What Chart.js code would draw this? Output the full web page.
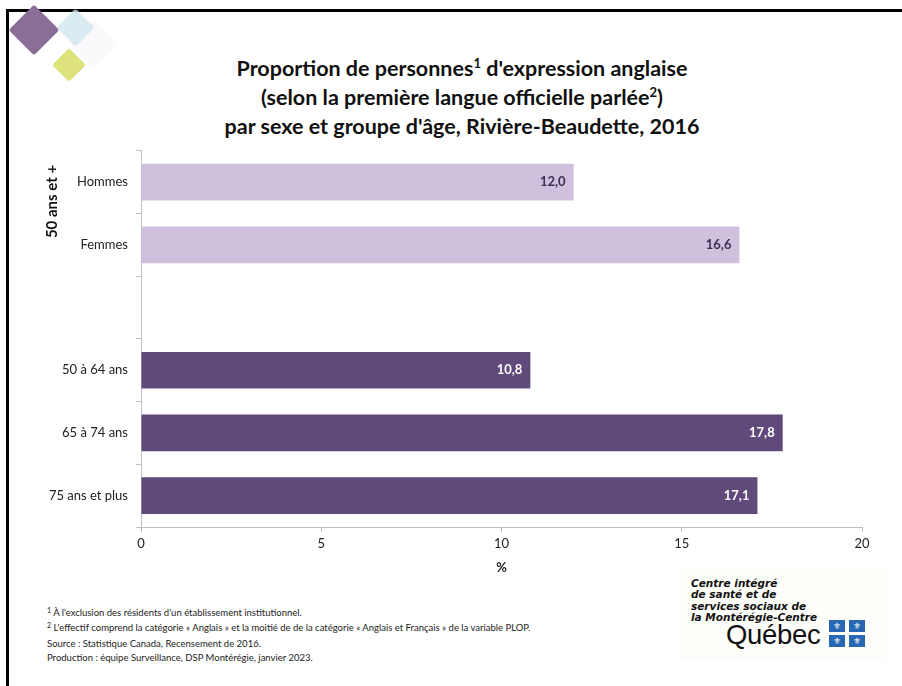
<!DOCTYPE html>
<html lang="fr">
<head>
<meta charset="utf-8">
<script src="https://cdn.jsdelivr.net/npm/chart.js@4.4.1/dist/chart.umd.min.js"></script>
<style>
  html, body { margin: 0; padding: 0; background: #fff; }
  body { width: 902px; height: 686px; position: relative; overflow: hidden; font-family: Lato, "Open Sans", sans-serif; color: #222; }
  .frame { position: absolute; left: 6px; top: 9px; right: -10px; bottom: -10px; border-left: 3px solid #000; border-top: 3px solid #000; }
  .dia { position: absolute; transform: rotate(45deg); border-radius: 3px; }
  #title { position: absolute; left: 130px; width: 664px; top: 54px; text-align: center; font-weight: bold; font-size: 21.5px; line-height: 29px; color: #111; }
  #title sup { font-size: 13px; line-height: 0; vertical-align: 8px; }
  #wrap { position: absolute; left: 20px; top: 135px; width: 860px; height: 445px; }
  .notes { position: absolute; left: 47px; top: 606px; font-size: 9.5px; line-height: 14.8px; color: #222; }
  .notes sup { font-size: 7px; vertical-align: 3px; line-height: 0; }
  .logo { position: absolute; left: 680px; top: 568px; width: 206px; height: 92px; background: #fdfdf9; }
  .logo .org { position: absolute; left: 11px; top: 10px; font-family: "DejaVu Sans", sans-serif; font-weight: bold; font-style: italic; font-size: 10.5px; line-height: 11.3px; color: #111; }
  .logo .qc { position: absolute; left: 46px; top: 51px; font-family: "Liberation Sans", sans-serif; font-size: 27.5px; letter-spacing: -0.3px; color: #111; }
  .flag { position: absolute; width: 16px; height: 12px; background: #2767b3; color: #fff; font-family: "DejaVu Sans", sans-serif; font-size: 9px; line-height: 12px; text-align: center; }
</style>
</head>
<body>
<div class="frame"></div>
<div class="dia" style="left:77px;top:27px;width:34px;height:34px;background:#fafafc;"></div>
<div class="dia" style="left:16px;top:12px;width:36px;height:36px;background:#8a6e97;"></div>
<div class="dia" style="left:62px;top:14px;width:27px;height:27px;background:rgba(205,228,238,0.75);"></div>
<div class="dia" style="left:57px;top:53px;width:24px;height:24px;background:#dde27c;"></div>

<div id="title">Proportion de personnes<sup>1</sup> d'expression anglaise<br>(selon la première langue officielle parlée<sup>2</sup>)<br>par sexe et groupe d'âge, Rivière-Beaudette, 2016</div>

<div id="wrap"><canvas id="chart"></canvas></div>

<div class="notes">
  <div><sup>1</sup> À l'exclusion des résidents d'un établissement institutionnel.</div>
  <div><sup>2</sup> L'effectif comprend la catégorie « Anglais » et la moitié de de la catégorie « Anglais et Français » de la variable PLOP.</div>
  <div style="margin-top:1px">Source : Statistique Canada, Recensement de 2016.</div>
  <div>Production : équipe Surveillance, DSP Montérégie, janvier 2023.</div>
</div>

<div class="logo">
  <div class="org">Centre intégré<br>de santé et de<br>services sociaux de<br>la Montérégie-Centre</div>
  <div class="qc">Québec</div>
  <div class="flag" style="left:149px;top:52px;">⚜</div>
  <div class="flag" style="left:169px;top:52px;">⚜</div>
  <div class="flag" style="left:149px;top:67px;">⚜</div>
  <div class="flag" style="left:169px;top:67px;">⚜</div>
</div>

<script>
const categories = ["Hommes", "Femmes", "", "50 à 64 ans", "65 à 74 ans", "75 ans et plus"];
const values = [12.0, 16.6, null, 10.8, 17.8, 17.1];
const groupLabel = "50 ans et +";
const xTicks = [0, 5, 10, 15, 20];

const light = "#cfc1de";
const dark = "#5f4a7b";
const barColors = categories.map((c, i) => i < 2 ? light : dark);
const labelColors = categories.map((c, i) => i < 2 ? "#3d2f50" : "#ffffff");

const valueLabels = {
  id: "valueLabels",
  afterDatasetsDraw(chart) {
    const ctx = chart.ctx;
    const meta = chart.getDatasetMeta(0);
    ctx.save();
    ctx.font = "bold 13px Lato, sans-serif";
    ctx.textAlign = "right";
    ctx.textBaseline = "middle";
    meta.data.forEach((bar, i) => {
      if (values[i] == null) return;
      ctx.fillStyle = labelColors[i];
      ctx.fillText(values[i].toFixed(1).replace(".", ","), bar.x - 8, bar.y);
    });
    ctx.restore();
  }
};

const groupTitle = {
  id: "groupTitle",
  afterDraw(chart) {
    const y = chart.scales.y;
    const mid = (y.getPixelForValue(0) + y.getPixelForValue(1)) / 2 - 12;
    const ctx = chart.ctx;
    ctx.save();
    ctx.translate(32, mid);
    ctx.rotate(-Math.PI / 2);
    ctx.font = "bold 15px Lato, sans-serif";
    ctx.fillStyle = "#111";
    ctx.textAlign = "center";
    ctx.textBaseline = "middle";
    ctx.fillText(groupLabel, 0, 0);
    ctx.restore();
  }
};

new Chart(document.getElementById("chart"), {
  type: "bar",
  data: {
    labels: categories,
    datasets: [{
      data: values,
      backgroundColor: barColors,
      borderWidth: 0,
      categoryPercentage: 1,
      barPercentage: 0.585
    }]
  },
  options: {
    indexAxis: "y",
    responsive: true,
    maintainAspectRatio: false,
    animation: false,
    layout: { padding: { top: 5, right: 18, left: 0, bottom: 0 } },
    plugins: { legend: { display: false }, tooltip: { enabled: false } },
    scales: {
      x: {
        min: 0, max: 20,
        afterBuildTicks(scale) { scale.ticks = xTicks.map(v => ({ value: v })); },
        afterFit(scale) { scale.height = 53; },
        border: { color: "#bfbfbf", width: 1 },
        grid: { drawOnChartArea: false, tickLength: 5, color: "#bfbfbf" },
        ticks: { padding: 4, color: "#222", font: { family: "Lato", size: 13 } },
        title: { display: true, text: "%", color: "#222", padding: { top: 3 }, font: { family: "Lato", size: 13, weight: "bold" } }
      },
      y: {
        afterFit(scale) { scale.width = 121; },
        border: { color: "#bfbfbf", width: 1 },
        grid: { offset: true, drawOnChartArea: false, tickLength: 5, color: "#bfbfbf" },
        ticks: { padding: 8, color: "#222", font: { family: "Lato", size: 13 } }
      }
    }
  },
  plugins: [valueLabels, groupTitle]
});
</script>
</body>
</html>
